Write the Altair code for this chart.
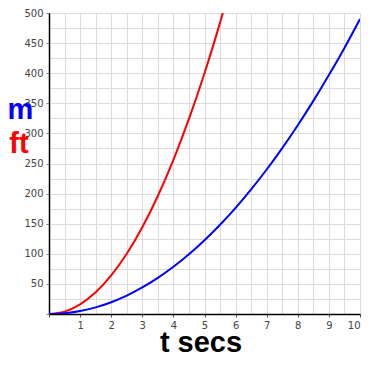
import altair as alt
import pandas as pd

# values
t_ft = [0, 0.5, 1, 1.5, 2, 2.5, 3, 3.5, 4, 4.5, 5, 5.5, 5.6]
ft = [0, 4, 16, 36, 64, 100, 144, 196, 256, 324, 400, 484, 502]

t_m = [0, 0.5, 1, 1.5, 2, 2.5, 3, 3.5, 4, 4.5, 5, 5.5, 6, 6.5, 7, 7.5, 8, 8.5, 9, 9.5, 10]
m = [0, 1.2, 4.9, 11, 19.6, 30.6, 44.1, 60, 78.4, 99.2, 122.5, 148.2, 176.4, 207,
     240, 275.6, 313.6, 354, 396.9, 442, 490]

x_grid = [i * 0.5 for i in range(21)]
y_grid = [i * 25 for i in range(21)]

df = pd.concat([
    pd.DataFrame({"t": t_ft, "v": ft, "unit": "ft"}),
    pd.DataFrame({"t": t_m, "v": m, "unit": "m"}),
])

W, H = 311, 301

xscale = alt.Scale(domain=[0, 10], nice=False, zero=False)
yscale = alt.Scale(domain=[0, 500], nice=False, zero=False)

xaxis = alt.Axis(
    values=x_grid, grid=True, gridColor="#dcdcdc", gridWidth=1,
    labelExpr="datum.value % 1 == 0 && datum.value > 0 ? format(datum.value, 'd') : ''",
    labelFont="DejaVu Sans", labelFontSize=10, labelColor="#444444",
    labelPadding=3, tickSize=3, tickColor="#555555",
    tickOpacity={"condition": {"test": "datum.value % 1 == 0", "value": 1}, "value": 0},
    domainColor="black", domainWidth=1.5, title=None, labelFlush=True,
)
yaxis = alt.Axis(
    values=y_grid, grid=True, gridColor="#dcdcdc", gridWidth=1,
    labelExpr="datum.value % 50 == 0 && datum.value > 0 ? format(datum.value, 'd') : ''",
    labelFont="DejaVu Sans", labelFontSize=10, labelColor="#444444",
    labelPadding=3, tickSize=3, tickColor="#888888",
    tickOpacity={"condition": {"test": "datum.value % 50 == 0", "value": 1}, "value": 0},
    domainColor="black", domainWidth=1.5, title=None, labelFlush=False,
)

lines = alt.Chart(df).mark_line(strokeWidth=2, clip=True, interpolate="monotone").encode(
    x=alt.X("t:Q", scale=xscale, axis=xaxis),
    y=alt.Y("v:Q", scale=yscale, axis=yaxis),
    color=alt.Color("unit:N", scale=alt.Scale(domain=["ft", "m"], range=["#ff0000", "#0000ff"]), legend=None),
    detail="unit:N",
)

def label(text, color, x, y):
    return alt.Chart(pd.DataFrame({"s": [text]})).mark_text(
        font="Liberation Sans", fontWeight="bold", fontSize=29, color=color,
        align="center", baseline="alphabetic",
    ).encode(text="s:N", x=alt.value(x), y=alt.value(y))

chart = alt.layer(
    lines,
    label("m", "#0000ff", -28.5, 106),
    label("ft", "#ff0000", -30, 140),
    label("t  secs", "#000000", 152, 339),
).properties(
    width=W, height=H,
    autosize=alt.AutoSizeParams(type="none"),
    padding={"left": 41, "top": 5, "right": 2, "bottom": 44},
).configure_view(stroke=None)

chart.save("out.html", embed_options={"renderer": "svg", "actions": False})
